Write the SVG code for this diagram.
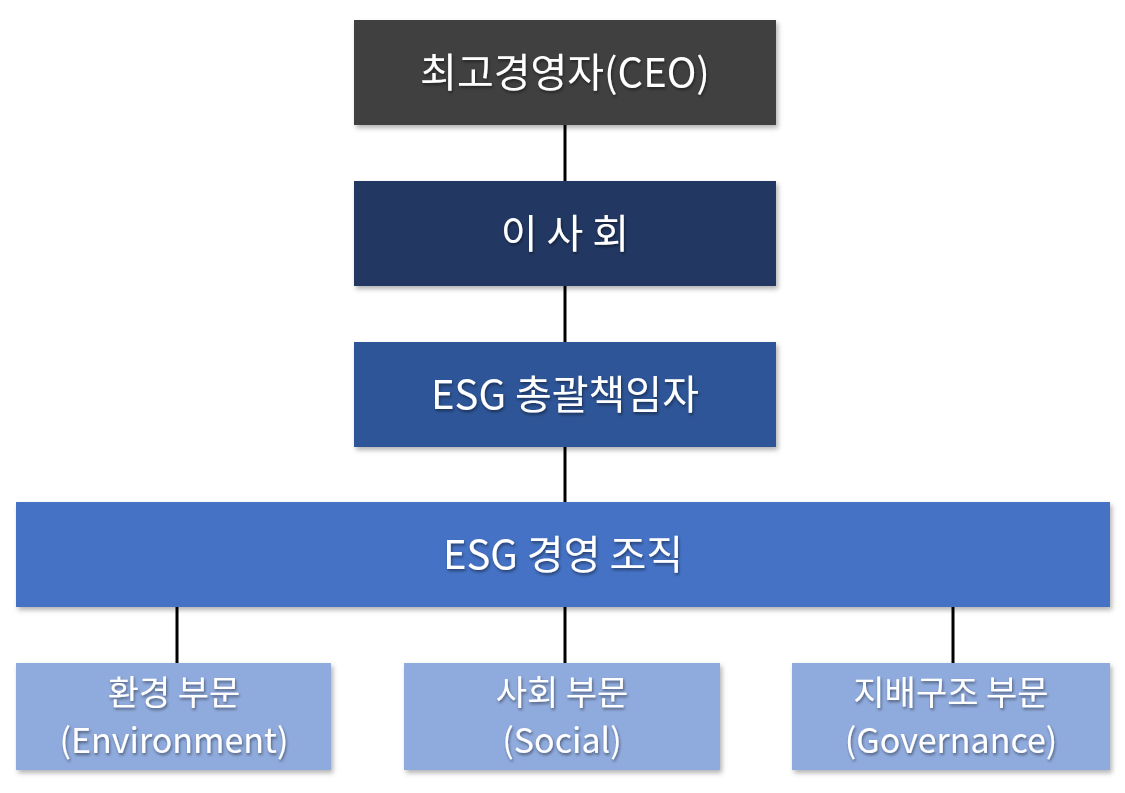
<svg xmlns="http://www.w3.org/2000/svg" width="1125" height="793" viewBox="0 0 1125 793">
<defs>
<filter id="sh" x="-10%" y="-10%" width="120%" height="130%"><feDropShadow dx="2" dy="3" stdDeviation="2.5" flood-color="#000" flood-opacity="0.3"/></filter>
<filter id="ts" x="-10%" y="-20%" width="120%" height="150%"><feDropShadow dx="1" dy="2" stdDeviation="1.5" flood-color="#000" flood-opacity="0.45"/></filter>
</defs>
<style>
text{font-family:"Noto Sans CJK KR","Noto Sans",sans-serif;fill:#fff;text-anchor:middle;filter:url(#ts)}
.b{font-size:40px}.s{font-size:34px}
.c line{stroke:#000;stroke-width:3}
</style>
<rect width="1125" height="793" fill="#fff"/>
<g class="c">
<line x1="565" y1="125" x2="565" y2="181"/>
<line x1="565" y1="286" x2="565" y2="342"/>
<line x1="565" y1="447" x2="565" y2="502"/>
<line x1="177" y1="607" x2="177" y2="663"/>
<line x1="565" y1="607" x2="565" y2="663"/>
<line x1="953" y1="607" x2="953" y2="663"/>
</g>
<g id="ceo"><rect x="354" y="20" width="422" height="105" fill="#404040" filter="url(#sh)"/><text class="b" x="565" y="87">최고경영자(CEO)</text></g>
<g id="board"><rect x="354" y="181" width="422" height="105" fill="#203864" filter="url(#sh)"/><text class="b" x="565" y="248">이 사 회</text></g>
<g id="cso"><rect x="354" y="342" width="422" height="105" fill="#2F5597" filter="url(#sh)"/><text class="b" x="565" y="409">ESG 총괄책임자</text></g>
<g id="org"><rect x="16" y="502" width="1094" height="105" fill="#4472C4" filter="url(#sh)"/><text class="b" x="563" y="569">ESG 경영 조직</text></g>
<g id="env"><rect x="16" y="663" width="315" height="107" fill="#8FAADC" filter="url(#sh)"/><text class="s" x="174" y="705">환경 부문</text><text class="s" x="174" y="753">(Environment)</text></g>
<g id="soc"><rect x="404" y="663" width="316" height="107" fill="#8FAADC" filter="url(#sh)"/><text class="s" x="562" y="705">사회 부문</text><text class="s" x="562" y="753">(Social)</text></g>
<g id="gov"><rect x="792" y="663" width="318" height="107" fill="#8FAADC" filter="url(#sh)"/><text class="s" x="951" y="705">지배구조 부문</text><text class="s" x="951" y="753">(Governance)</text></g>
</svg>
